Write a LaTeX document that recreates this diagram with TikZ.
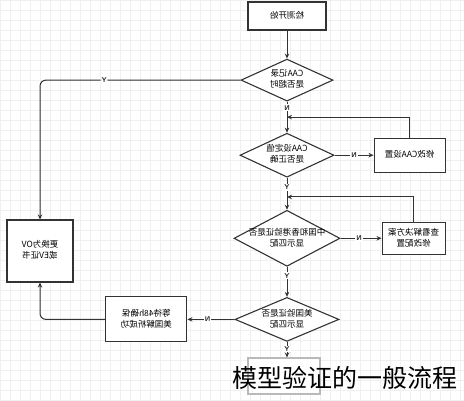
\documentclass[tikz,border=0pt]{standalone}
\usepackage{graphicx}
\usepackage{fontspec}
\newfontfamily\cjk{Noto Sans CJK SC}
\usetikzlibrary{arrows.meta,positioning,calc,shapes.geometric}
\newcommand{\mirtext}[1]{\reflectbox{\begin{tabular}{@{}c@{}}#1\end{tabular}}}

\begin{document}
\begin{tikzpicture}[
  x=1pt, y=-1pt,
  font=\cjk\fontsize{8.5}{11}\selectfont,
  box/.style={draw=black!80, line width=1.1pt, align=center, inner sep=2pt, fill=white},
  decision/.style={draw=black!80, line width=1.1pt, diamond, inner sep=0pt, fill=white},
  arrow/.style={-{Stealth[length=5pt,width=4.5pt]}, line width=1pt, draw=black!80},
  yn/.style={fill=white, inner sep=1pt, text=black!85, font=\sffamily\bfseries\fontsize{7}{8}\selectfont}
]
\useasboundingbox (0,0) rectangle (464,400);
\draw[gray!12, line width=0.3pt, step=10pt] (0,0) grid (464,400);

% main column
\node[box, minimum width=78pt, minimum height=28pt] (start) at (287,16) {\mirtext{检测开始}};
\node[decision, minimum width=92pt, minimum height=42pt, below=28pt of start,
  label=center:{\mirtext{CAA记录\\是否超时}}] (rec) {};
\node[decision, minimum width=94pt, minimum height=44pt, below=31pt of rec,
  label=center:{\mirtext{CAA设定值\\是否正确}}] (caa) {};
\node[decision, minimum width=106pt, minimum height=56pt, below=32pt of caa,
  label=center:{\mirtext{中国和香港验证是否\\显示匹配}}] (match) {};
\node[decision, minimum width=104pt, minimum height=44pt, below=30pt of match,
  label=center:{\mirtext{美国验证是否\\显示匹配}}] (us) {};
\node[box, draw=gray!55, minimum width=72pt, minimum height=36pt] (issue) at (284,376) {};

% side boxes
\node[box, minimum width=71pt, minimum height=34pt, right=39pt of caa] (fixcaa) {\mirtext{修改CAA设置}};
\node[box, minimum width=63pt, minimum height=32pt, right=41pt of match] (fixcfg) {\mirtext{查看解决方案\\修改配置}};
\node[box, minimum width=81pt, minimum height=45pt, left=47pt of us] (wait) {\mirtext{等待48h确保\\美国解析成功}};
\node[box, minimum width=66pt, minimum height=62pt] (ev) at (40,251) {\mirtext{更换为OV\\或EV证书}};

\coordinate (j1) at ($(rec.south)!0.5!(caa.north)$);
\coordinate (j2) at ($(caa.south)!0.6!(match.north)$);

\draw[arrow] (start) -- (rec);
\draw[arrow] (rec) -- node[yn, pos=0.2] {\reflectbox{N}} (caa);
\draw[arrow, rounded corners=6pt] (rec.west) -| node[yn, pos=0.34] {Y} (ev.north);
\draw[arrow] (caa) -- node[yn, pos=0.3] {Y} (match);
\draw[arrow] (caa) -- node[yn] {\reflectbox{N}} (fixcaa);
\draw[arrow] (fixcaa.north) |- (j1);
\draw[arrow] (match) -- node[yn, pos=0.3] {Y} (us);
\draw[arrow] (match) -- node[yn, pos=0.45] {\reflectbox{N}} (fixcfg);
\draw[arrow] (fixcfg.north) |- (j2);
\draw[arrow] (us) -- node[yn, pos=0.45] {Y} (us.south |- issue.north);
\draw[arrow] (us) -- node[yn, pos=0.57] {\reflectbox{N}} (wait);
\draw[arrow, rounded corners=6pt] (wait.west) -| (ev.south);

\node[font=\cjk\fontsize{25}{25}\selectfont, inner sep=0pt] (caption) at (345,378) {模型验证的一般流程};
\end{tikzpicture}
\end{document}
